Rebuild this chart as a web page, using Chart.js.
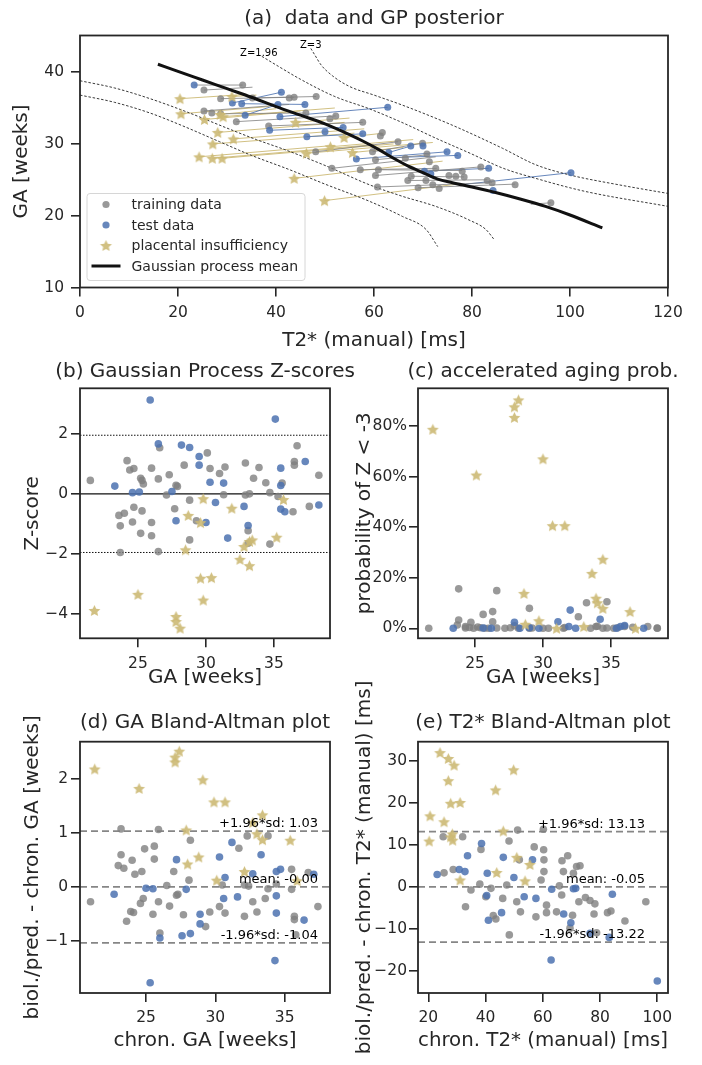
<!DOCTYPE html>
<html>
<head>
<meta charset="utf-8">
<title>GA prediction from placental T2*</title>
<script src="https://cdn.jsdelivr.net/npm/chart.js"></script>
<style>
  body { margin: 0; background: #fff; }
  #page { position: relative; width: 702px; height: 1065px; }
  canvas { position: absolute; left: 0; top: 0; }
</style>
</head>
<body>
<div id="page">
  <canvas id="chartA" width="702" height="1065"></canvas>
  <canvas id="chartB" width="702" height="1065"></canvas>
  <canvas id="chartC" width="702" height="1065"></canvas>
  <canvas id="chartD" width="702" height="1065"></canvas>
  <canvas id="chartE" width="702" height="1065"></canvas>
</div>
<script>
// (a) data and GP posterior: T2* [ms] vs GA [weeks]
const aTrainT2 = [33.2,25.3,28.7,35.2,42.7,43.7,48.2,25.3,26.9,28.7,46.1,51.0,52.2,31.9,38.5,57.7,61.7,61.3,64.9,48.1,59.7,60.3,66.4,69.9,70.8,71.3,72.6,51.4,57.2,60.9,60.3,67.6,66.9,70.6,72.0,73.3,69.0,60.7,75.3,76.7,78.4,78.0,81.8,83.1,84.1,88.8,96.1];
const aTrainGA = [38.2,37.5,36.3,36.4,36.4,36.5,36.6,34.6,34.3,34.2,34.3,33.5,33.9,33.1,32.5,33.0,31.6,31.1,30.3,28.9,28.9,27.8,28.0,30.1,28.6,27.5,26.6,26.6,26.4,26.4,25.6,25.5,24.9,24.9,24.3,23.8,23.9,24.0,25.6,25.5,25.4,26.2,26.8,24.9,24.6,24.3,21.8];
const aTestT2 = [23.3,41.1,31.1,33.0,40.4,45.9,33.7,40.8,62.8,38.7,53.7,50.0,46.3,57.7,63.0,56.4,67.5,70.0,74.9,77.1,83.4,70.3,71.6,84.3,100.2];
const aTestGA = [38.2,37.2,35.7,35.6,35.5,35.5,34.0,33.8,35.1,31.9,32.3,31.7,31.0,31.4,28.8,27.9,29.7,29.7,28.9,28.4,26.6,26.2,25.8,23.5,26.0];
const aPiT2 = [20.4,20.6,25.4,28.6,29.2,31.0,28.1,31.3,27.1,24.3,27.0,29.0,44.0,53.9,51.1,46.2,55.6,43.7,49.9];
const aPiGA = [36.3,34.2,33.4,34.1,33.8,36.6,31.6,30.7,30.0,28.2,28.0,28.0,33.0,30.9,29.6,28.7,28.8,25.2,22.1];

// connecting lines [T2 from, GA from, T2 to, GA to]
const aTrainLinks = [[23.3,38.2,33.2,38.2],[25.3,37.5,35.2,37.9],[28.7,36.3,43.7,36.5],[35.2,36.4,48.2,36.6],[25.3,34.6,42.7,35.5],[28.7,34.2,46.1,34.3],[31.9,33.1,52.2,33.9],[38.5,32.5,57.7,33.0],[48.1,28.9,64.9,30.3],[59.7,28.9,69.9,30.1],[60.3,27.8,71.3,28.5],[51.4,26.6,72.6,28.2],[57.2,26.4,72.8,26.6],[60.9,26.4,78.0,26.3],[60.3,25.6,81.8,26.8],[67.6,25.5,78.4,25.4],[66.9,24.9,83.1,25.0],[60.7,24.0,84.1,24.6],[69.0,23.9,88.8,24.4],[92.0,21.6,96.1,21.8]];
const aTestLinks = [[31.1,35.7,41.1,37.2],[33.0,35.6,45.9,35.5],[33.7,34.0,40.4,35.5],[40.8,33.8,62.8,35.1],[38.7,31.9,53.7,32.3],[46.3,31.0,57.7,31.4],[56.4,27.9,74.9,28.9],[63.0,28.8,67.5,29.7],[64.0,28.1,77.1,28.4],[70.3,26.2,83.4,26.6],[77.5,24.3,100.2,26.0]];
const aPiLinks = [[20.4,36.3,34.0,36.9],[20.6,34.2,38.5,35.2],[25.4,33.4,45.0,34.6],[28.6,34.1,40.0,34.9],[29.2,33.8,52.0,35.0],[31.0,36.6,36.0,36.8],[28.1,31.6,54.0,33.0],[31.3,30.7,58.0,32.1],[27.1,30.0,56.0,31.5],[24.3,28.2,52.0,29.8],[27.0,28.0,60.0,29.9],[29.0,28.0,64.0,30.0],[44.0,33.0,55.0,33.6],[53.9,30.9,62.0,31.5],[51.1,29.6,68.0,30.6],[46.2,28.7,72.0,30.2],[55.6,28.8,66.0,29.5],[43.7,25.2,74.0,27.6],[49.9,22.1,77.0,24.4]];

const aMeanT2 = [15.9,20,25,30,35,40,45,50,55,58,61,64,67,70,73,76,80,85,90,95,100,106.6];
const aMeanGA = [41.1,40.1,38.9,37.7,36.5,35.2,34.0,32.8,31.3,30.3,29.2,28.0,26.9,26.0,25.1,24.6,24.0,23.2,22.3,21.3,20.1,18.3];

// Z-score contours
const aZp196T2 = [37.1,40.5,45,52,59,66,72.6,79.6,86.4,93,103,120];
const aZp196GA = [42.2,40.8,39.0,36.6,34.9,32.9,30.8,28.7,26.6,25.2,23.4,21.3];
const aZp3T2 = [47.1,48.0,49.2,51.5,55.0,60.0,65.8,76.0,86.2,93.0,99.8,110,120];
const aZp3GA = [43.3,42.3,41.0,39.5,38.0,36.8,35.4,32.6,29.4,27.1,25.7,24.3,23.1];
const aZm196T2 = [0,7,14.3,22,30,36,41.8,50,59.1,65.8,72.6,79.4,82.8,84.5];
const aZm196GA = [38.8,37.8,36.3,34.4,32.2,30.6,29.2,27.0,24.3,22.7,21.3,19.4,18.1,16.7];
const aZm3T2 = [0,7,14.3,21,28.5,35,42.8,50,59.1,65.8,70.6,73];
const aZm3GA = [36.8,35.8,34.3,32.5,30.3,28.4,26.4,24.4,22.0,19.9,18.1,15.7];
const aContourText = ['Z=1.96', 'Z=3'];

const aXTicks = [0,20,40,60,80,100,120];
const aXLabels = ['0','20','40','60','80','100','120'];
const aYTicks = [10,20,30,40];
const aYLabels = ['10','20','30','40'];
const aLegend = ['training data','test data','placental insufficiency','Gaussian process mean'];

// (b) Z-scores vs GA
const bTrainGA = [21.5,24.2,24.4,24.7,26.0,26.6,25.2,25.3,25.4,26.5,27.3,28.4,27.8,27.9,27.1,30.1,30.3,31.0,31.4,32.9,33.9,33.5,34.4,35.6,36.5,36.5,36.7,38.3,31.3,32.9,33.2,34.7,35.3,28.8,27.7,24.7,25.3,23.6,24.0,24.6,23.7,26.0,25.2,26.0,28.8,29.3,33.1,33.1,34.7,37.6,36.4,23.7,26.5];
const bTrainZ = [0.45,1.11,0.80,0.85,0.86,1.54,0.52,0.45,0.33,0.50,0.64,0.96,0.29,0.25,-0.04,1.37,0.85,0.68,0.90,1.03,0.88,0.52,0.37,0.36,1.08,0.96,1.61,0.62,-0.03,-0.04,0.00,0.04,-0.09,-0.21,-0.50,-0.45,-0.57,-0.72,-0.65,-0.94,-1.07,-0.96,-1.32,-1.40,-1.54,-0.90,-1.23,-1.65,-1.68,-0.42,-0.60,-1.96,-1.93];
const bTestGA = [25.9,35.1,26.5,28.2,28.8,29.5,29.5,37.3,35.5,23.3,24.6,25.1,27.5,30.3,31.3,35.5,30.7,32.8,35.5,35.8,38.3,27.8,30.0,33.1,31.6];
const bTestZ = [3.14,2.50,1.67,1.63,1.55,1.25,0.96,1.08,0.86,0.26,0.04,0.06,0.08,0.39,0.36,0.28,-0.29,-0.42,-0.51,-0.60,-0.37,-0.90,-0.96,-1.06,-1.48];
const bPiGA = [29.8,31.9,35.7,28.7,29.6,28.5,32.8,33.2,33.4,35.2,32.5,33.2,29.6,30.4,25.0,29.8,21.8,27.8,27.8,28.1];
const bPiZ = [-0.16,-0.48,-0.19,-0.72,-0.96,-1.87,-1.76,-1.59,-1.54,-1.45,-2.19,-2.40,-2.82,-2.80,-3.36,-3.55,-3.90,-4.10,-4.27,-4.49];
const bRefLines = [1.96, 0, -1.96];
const bXTicks = [25,30,35];
const bXLabels = ['25','30','35'];
const bYTicks = [-4,-2,0,2];
const bYLabels = ['\u22124','\u22122','0','2'];

// (c) probability of Z < -3 [%] vs GA
const cTrainGA = [21.6,23.8,26.6,23.8,23.7,24.3,24.7,25.6,26.3,26.3,29.0,33.2,34.7,32.6,33.9,36.0,37.7,38.4,24.3,24.6,24.9,25.2,25.4,25.7,26.0,26.6,27.2,27.6,27.9,28.2,29.0,29.2,30.0,30.4,31.5,31.6,33.5,34.0,34.4,34.7,35.2,35.5,36.6,38.4];
const cTrainP = [0,15.6,14.9,3.3,1.3,0.7,2.4,5.5,6.6,2.6,7.9,10.1,10.5,4.6,0.7,0.7,0.7,0,0.1,0.3,0,0.5,0.2,0,0,0.1,0,0.2,1.0,0,0,0.1,0,0,0,0.3,0,0.8,0,0.1,0,0.2,0.4,0.1];
const cTestGA = [23.4,27.9,31.1,32.0,34.2,29.7,28.3,26.2,31.9,32.4,35.4,35.7,36.0,37.4,29.0,25.6];
const cTestP = [0,2.4,2.6,7.2,3.6,0,0,0,0.7,0,0,0.7,1.1,0,0.2,0.1];
const cPiGA = [21.9,25.1,27.9,27.9,28.2,30.0,30.7,31.6,28.6,28.7,29.7,31.0,33.0,33.6,34.4,33.9,34.0,34.4,36.4,36.8];
const cPiP = [78.7,60.6,83.4,87.6,90.3,67.0,40.6,40.6,13.8,1.6,3.0,0,0.7,21.7,27.3,11.9,10.1,7.9,6.6,0];
const cXTicks = [25,30,35];
const cXLabels = ['25','30','35'];
const cYTicks = [0,20,40,60,80];
const cYLabels = ['0%','20%','40%','60%','80%'];

// (d) GA Bland-Altman
const dTrainGA = [21.0,23.2,25.9,28.2,23.2,23.0,23.4,24.0,24.2,24.7,24.9,25.6,25.6,27.0,28.1,26.5,27.2,27.3,24.8,24.6,25.9,26.7,23.9,24.1,23.6,25.5,27.7,26.0,29.3,29.6,30.7,30.3,31.7,32.3,33.8,30.5,32.1,32.4,33.8,34.4,35.5,35.5,36.7,33.6,32.7,32.1,33.0,35.7,35.7,35.8,37.4];
const dTrainDiff = [-0.28,1.07,1.06,0.86,0.59,0.39,0.34,0.49,0.23,0.28,0.70,0.75,0.51,0.28,0.12,0.02,-0.16,-0.14,-0.22,-0.31,-0.28,-0.36,-0.46,-0.48,-0.64,-0.51,-0.52,-0.86,-0.74,-0.47,-0.49,-0.37,0.71,0.94,0.94,0.03,0.03,0.01,-0.04,0.05,0.32,-0.05,0.26,-0.22,-0.28,-0.55,-0.47,-0.55,-0.61,-0.89,-0.37];
const dTestGA = [25.3,34.3,22.7,25.0,25.5,27.9,27.2,30.3,31.2,33.3,30.7,32.7,34.4,34.7,37.1,30.6,31.6,34.4,34.4,36.4,28.9,28.9,27.6,28.2,26.0];
const dTestDiff = [-1.78,-1.37,-0.14,-0.03,-0.04,-0.05,0.50,0.55,0.82,0.59,0.17,0.24,0.28,0.32,0.23,-0.22,-0.19,-0.17,-0.49,-0.62,-0.51,-0.69,-0.91,-0.87,-0.95];
const dPiGA = [21.3,24.5,27.1,27.1,27.4,29.1,29.9,30.7,27.9,33.4,32.7,33.0,33.4,35.4,28.0,28.8,32.1,30.1,35.9];
const dPiDiff = [2.18,1.82,2.31,2.40,2.51,1.98,1.57,1.57,1.05,1.33,1.19,0.98,0.87,0.86,0.42,0.55,0.28,0.12,0.11];
const dLimits = [1.03, -0.003, -1.04];
const limitNames = ['+1.96*sd', 'mean', '-1.96*sd'];
const dXTicks = [25,30,35];
const dXLabels = ['25','30','35'];
const dYTicks = [-1,0,1,2];
const dYLabels = ['\u22121','0','1','2'];

// (e) T2* Bland-Altman
const eTrainT2 = [25.2,32.0,28.7,25.5,38.4,38.0,34.9,33.0,40.1,41.9,42.7,43.6,46.0,47.4,48.2,51.2,50.9,51.8,52.2,48.3,57.0,57.6,59.4,60.2,60.3,60.4,60.4,61.3,61.3,64.8,65.8,66.6,66.7,67.2,68.7,70.7,71.8,73.0,70.4,72.6,74.9,76.5,78.2,77.9,82.6,83.8,88.7,96.0,69.5,78.8];
const eTrainDiff = [11.9,11.9,4.1,3.3,8.9,0.6,-0.8,-4.8,-2.4,-0.4,-6.9,-7.7,-2.8,0.4,10.9,13.5,-3.6,6.4,-6.0,-11.5,9.5,-7.2,1.6,13.7,8.8,6.4,3.6,-4.4,-6.2,-6.0,0.2,-2.0,6.2,3.6,7.4,3.2,4.8,5.0,-6.8,-3.6,-2.6,-3.3,-4.1,-6.5,-6.2,-5.8,-8.2,-3.6,-9.9,-11.0];
const eTestT2 = [100.0,62.9,23.1,30.8,32.8,33.7,38.6,40.6,40.4,41.0,45.6,46.2,49.9,53.5,57.6,56.4,63.1,67.3,69.8,70.7,71.5,84.3,83.2,76.5];
const eTestDiff = [-22.5,-17.5,2.9,4.1,3.6,7.4,10.3,3.2,-2.1,-8.0,-6.2,7.0,2.2,-2.4,-2.8,6.4,-0.6,-6.5,-8.6,-0.5,-0.4,-1.8,-12.1,-11.1];
const ePiT2 = [24.1,27.0,29.0,27.0,49.8,43.5,27.8,31.1,20.6,25.5,20.3,28.4,28.5,46.2,50.9,55.5,43.9,53.8,31.1,27.8];
const ePiDiff = [32.0,30.6,29.0,25.3,27.9,23.1,19.9,20.1,16.9,15.5,10.9,12.6,11.1,13.3,7.0,5.3,3.4,1.4,1.6,11.9];
const eLimits = [13.13, -0.05, -13.22];
const eXTicks = [20,40,60,80,100];
const eXLabels = ['20','40','60','80','100'];
const eYTicks = [-20,-10,0,10,20,30];
const eYLabels = ['\u221220','\u221210','0','10','20','30'];

// ---------------------------------------------------------------
const W = 702, H = 1065;
const FONT = 'DejaVu Sans';
const INK = '#262626';
const GRAY = 'rgba(128,128,128,0.8)';
const BLUE = 'rgba(76,114,176,0.85)';
const GOLD = 'rgba(204,185,116,0.9)';

function pts(xs, ys) {
  return xs.map((x, i) => ({ x: x, y: ys[i] }));
}

// filled five point star, used as point image
function starImage(color, r) {
  const c = document.createElement('canvas');
  const s = Math.ceil(r * 2 + 2);
  c.width = s; c.height = s;
  const g = c.getContext('2d');
  g.fillStyle = color;
  g.beginPath();
  for (let i = 0; i < 10; i++) {
    const rr = i % 2 === 0 ? r : r * 0.48;
    const ang = -Math.PI / 2 + i * Math.PI / 5;
    g.lineTo(s / 2 + rr * Math.cos(ang), s / 2 + 0.6 + rr * Math.sin(ang));
  }
  g.closePath();
  g.fill();
  return c;
}
const STAR = starImage(GOLD, 6.2);

function dots(xs, ys, color, r, order) {
  return { data: pts(xs, ys), backgroundColor: color, pointRadius: r, pointBorderWidth: 0, order: order };
}
function stars(xs, ys, order) {
  return { data: pts(xs, ys), pointStyle: STAR, pointRadius: 5, pointBorderWidth: 0, order: order };
}
function line(xs, ys, color, width, dash, order) {
  return { data: pts(xs, ys), showLine: true, borderColor: color, borderWidth: width, borderDash: dash,
           pointRadius: 0, cubicInterpolationMode: 'monotone', order: order };
}
function links(list, color) {
  return list.map(s => line([s[0], s[2]], [s[1], s[3]], color, 1, [], 8));
}
function hlines(values, xmin, xmax, color, width, dash) {
  return values.map(v => line([xmin, xmax], [v, v], color, width, dash, 6));
}

function axis(min, max, ticks, labels, title, size, titlePad, tickPad) {
  return {
    type: 'linear', min: min, max: max,
    afterBuildTicks: s => { s.ticks = ticks.map(v => ({ value: v })); },
    afterFit: s => { if (s.isHorizontal()) s.height = size; else s.width = size; },
    ticks: { autoSkip: false, maxRotation: 0, padding: tickPad, color: INK, font: { family: FONT, size: 15.5 },
             callback: v => labels[ticks.indexOf(v)] },
    grid: { drawOnChartArea: false, tickLength: 9, lineWidth: 1.6, color: INK },
    border: { display: false },
    title: { display: true, text: title, color: INK, font: { family: FONT, size: 20 }, padding: titlePad }
  };
}

const frame = {
  id: 'frame',
  afterDraw(chart) {
    const a = chart.chartArea, ctx = chart.ctx;
    ctx.save();
    ctx.strokeStyle = INK;
    ctx.lineWidth = 1.8;
    ctx.strokeRect(a.left, a.top, a.right - a.left, a.bottom - a.top);
    ctx.restore();
  }
};

const heading = {
  id: 'heading',
  afterDraw(chart, args, opts) {
    const a = chart.chartArea, ctx = chart.ctx;
    ctx.save();
    ctx.font = '20px "' + FONT + '"';
    ctx.fillStyle = INK;
    ctx.textAlign = 'center';
    ctx.textBaseline = 'middle';
    ctx.fillText(opts.text, (a.left + a.right) / 2, a.top - opts.gap);
    ctx.restore();
  }
};

const notes = {
  id: 'notes',
  afterDraw(chart, args, opts) {
    const ctx = chart.ctx;
    (opts.items || []).forEach(n => {
      const x = chart.scales.x.getPixelForValue(n.x);
      const y = chart.scales.y.getPixelForValue(n.y);
      ctx.save();
      ctx.font = n.size + 'px "' + FONT + '"';
      ctx.fillStyle = '#000';
      ctx.textAlign = n.align;
      ctx.textBaseline = n.baseline;
      ctx.fillText(n.text, x + n.dx, y + n.dy);
      ctx.restore();
    });
  }
};

// legend box of panel (a), lower left inside the axes
const keyA = {
  id: 'keyA',
  afterDraw(chart) {
    const ctx = chart.ctx, a = chart.chartArea;
    const left = a.left + 7, top = a.bottom - 94, w = 218, h = 87, r = 3;
    ctx.save();
    ctx.beginPath();
    ctx.moveTo(left + r, top);
    ctx.arcTo(left + w, top, left + w, top + h, r);
    ctx.arcTo(left + w, top + h, left, top + h, r);
    ctx.arcTo(left, top + h, left, top, r);
    ctx.arcTo(left, top, left + w, top, r);
    ctx.closePath();
    ctx.fillStyle = 'rgba(255,255,255,0.8)';
    ctx.fill();
    ctx.strokeStyle = '#d6d6d6';
    ctx.lineWidth = 1;
    ctx.stroke();
    const rows = [top + 11, top + 31.5, top + 52, top + 72.5];
    const mx = left + 19;
    ctx.fillStyle = GRAY;
    ctx.beginPath(); ctx.arc(mx, rows[0], 3.6, 0, Math.PI * 2); ctx.fill();
    ctx.fillStyle = BLUE;
    ctx.beginPath(); ctx.arc(mx, rows[1], 3.6, 0, Math.PI * 2); ctx.fill();
    ctx.drawImage(STAR, mx - STAR.width / 2, rows[2] - STAR.height / 2);
    ctx.strokeStyle = '#111';
    ctx.lineWidth = 3;
    ctx.beginPath(); ctx.moveTo(left + 4.5, rows[3]); ctx.lineTo(left + 33.5, rows[3]); ctx.stroke();
    ctx.font = '14px "' + FONT + '"';
    ctx.fillStyle = INK;
    ctx.textAlign = 'left';
    ctx.textBaseline = 'middle';
    aLegend.forEach((t, i) => ctx.fillText(t, left + 44.5, rows[i] + 1));
    ctx.restore();
  }
};

// o.area = [left, top, right, bottom] of the axes box on the page
function makeChart(id, datasets, o) {
  const [l, t, r, b] = o.area;
  return new Chart(document.getElementById(id), {
    type: 'scatter',
    data: { datasets: datasets },
    options: {
      responsive: false,
      animation: false,
      devicePixelRatio: 1,
      events: [],
      layout: { padding: { left: l - o.yw, right: W - r, top: t, bottom: H - b - o.xh } },
      scales: { x: o.x, y: o.y },
      plugins: {
        legend: { display: false },
        tooltip: { enabled: false },
        heading: { text: o.title, gap: o.gap },
        notes: { items: o.notes || [] }
      }
    },
    plugins: [frame, heading, notes].concat(o.extra || [])
  });
}

// (a)
makeChart('chartA', [
  line(aMeanT2, aMeanGA, '#111', 3, [], -1),
  stars(aPiT2, aPiGA, 0),
  dots(aTestT2, aTestGA, BLUE, 3.5, 1),
  dots(aTrainT2, aTrainGA, GRAY, 3.5, 2),
  line(aZp196T2, aZp196GA, '#222', 0.9, [2.5, 1.8], 5),
  line(aZp3T2, aZp3GA, '#222', 0.9, [2.5, 1.8], 5),
  line(aZm196T2, aZm196GA, '#222', 0.9, [2.5, 1.8], 5),
  line(aZm3T2, aZm3GA, '#222', 0.9, [2.5, 1.8], 5)
].concat(links(aTrainLinks, GRAY), links(aTestLinks, BLUE), links(aPiLinks, GOLD)), {
  title: '(a)  data and GP posterior', gap: 17, area: [80, 35.5, 668, 287.5], yw: 80, xh: 70.5,
  x: axis(0, 120, aXTicks, aXLabels, 'T2* (manual) [ms]', 70.5, { top: 0, bottom: 5 }, 7),
  y: axis(10, 45.1, aYTicks, aYLabels, 'GA [weeks]', 80, { top: 10, bottom: 0 }, 7),
  notes: [
    { x: aZp196T2[0], y: aZp196GA[0], text: aContourText[0], size: 10, align: 'center', baseline: 'middle', dx: -3, dy: -3 },
    { x: aZp3T2[0], y: aZp3GA[0], text: aContourText[1], size: 10, align: 'center', baseline: 'middle', dx: 0, dy: -3 }
  ],
  extra: [keyA]
});

// (b)
makeChart('chartB', [
  stars(bPiGA, bPiZ, 0),
  dots(bTestGA, bTestZ, BLUE, 3.8, 1),
  dots(bTrainGA, bTrainZ, GRAY, 3.8, 2),
  line([20.74, 39.12], [bRefLines[0], bRefLines[0]], '#111', 1, [1.5, 1.5], 6),
  line([20.74, 39.12], [bRefLines[1], bRefLines[1]], '#111', 1.2, [], 6),
  line([20.74, 39.12], [bRefLines[2], bRefLines[2]], '#111', 1, [1.5, 1.5], 6)
], {
  title: '(b) Gaussian Process Z-scores', gap: 16.5, area: [80, 388.3, 330, 638.3], yw: 80, xh: 56.7,
  x: axis(20.74, 39.12, bXTicks, bXLabels, 'GA [weeks]', 56.7, { top: 0, bottom: 5 }, 7),
  y: axis(-4.83, 3.53, bYTicks, bYLabels, 'Z-score', 80, { top: 21, bottom: 0 }, 3)
});

// (c)
makeChart('chartC', [
  stars(cPiGA, cPiP, 0),
  dots(cTestGA, cTestP, BLUE, 3.8, 1),
  dots(cTrainGA, cTrainP, GRAY, 3.8, 2)
], {
  title: '(c) accelerated aging prob.', gap: 16.5, area: [418, 388.3, 668, 638.3], yw: 73, xh: 56.7,
  x: axis(20.81, 39.19, cXTicks, cXLabels, 'GA [weeks]', 56.7, { top: 0, bottom: 5 }, 7),
  y: axis(-3.95, 94.9, cYTicks, cYLabels, 'probability of Z < -3', 73, { top: 8, bottom: 0 }, 2)
});

// (d)
makeChart('chartD', [
  stars(dPiGA, dPiDiff, 0),
  dots(dTestGA, dTestDiff, BLUE, 3.8, 1),
  dots(dTrainGA, dTrainDiff, GRAY, 3.8, 2)
].concat(hlines(dLimits, 20.24, 38.27, 'rgba(128,128,128,0.95)', 1.8, [7, 4])), {
  title: '(d) GA Bland-Altman plot', gap: 19, area: [80, 741.7, 330, 993], yw: 80, xh: 72,
  x: axis(20.24, 38.27, dXTicks, dXLabels, 'chron. GA [weeks]', 72, { top: 0, bottom: 12 }, 7),
  y: axis(-1.97, 2.685, dYTicks, dYLabels, 'biol./pred. - chron. GA [weeks]', 80, { top: 21, bottom: 0 }, 3),
  notes: dLimits.map((v, i) => ({ x: 37.4, y: v, text: limitNames[i] + ': ' + v.toFixed(2), size: 13,
                                 align: 'right', baseline: 'bottom', dx: 0, dy: -1 }))
});

// (e)
makeChart('chartE', [
  stars(ePiT2, ePiDiff, 0),
  dots(eTestT2, eTestDiff, BLUE, 3.8, 1),
  dots(eTrainT2, eTrainDiff, GRAY, 3.8, 2)
].concat(hlines(eLimits, 16.4, 103.74, 'rgba(128,128,128,0.95)', 1.8, [7, 4])), {
  title: '(e) T2* Bland-Altman plot', gap: 19, area: [418, 741.7, 668, 993], yw: 73, xh: 72,
  x: axis(16.4, 103.74, eXTicks, eXLabels, 'chron. T2* (manual) [ms]', 72, { top: 0, bottom: 12 }, 7),
  y: axis(-25.37, 34.6, eYTicks, eYLabels, 'biol./pred. - chron. T2* (manual) [ms]', 73, { top: 8, bottom: 0 }, 2),
  notes: eLimits.map((v, i) => ({ x: 95.7, y: v, text: limitNames[i] + ': ' + v.toFixed(2), size: 13,
                                 align: 'right', baseline: 'bottom', dx: 0, dy: -1 }))
});
</script>
</body>
</html>
